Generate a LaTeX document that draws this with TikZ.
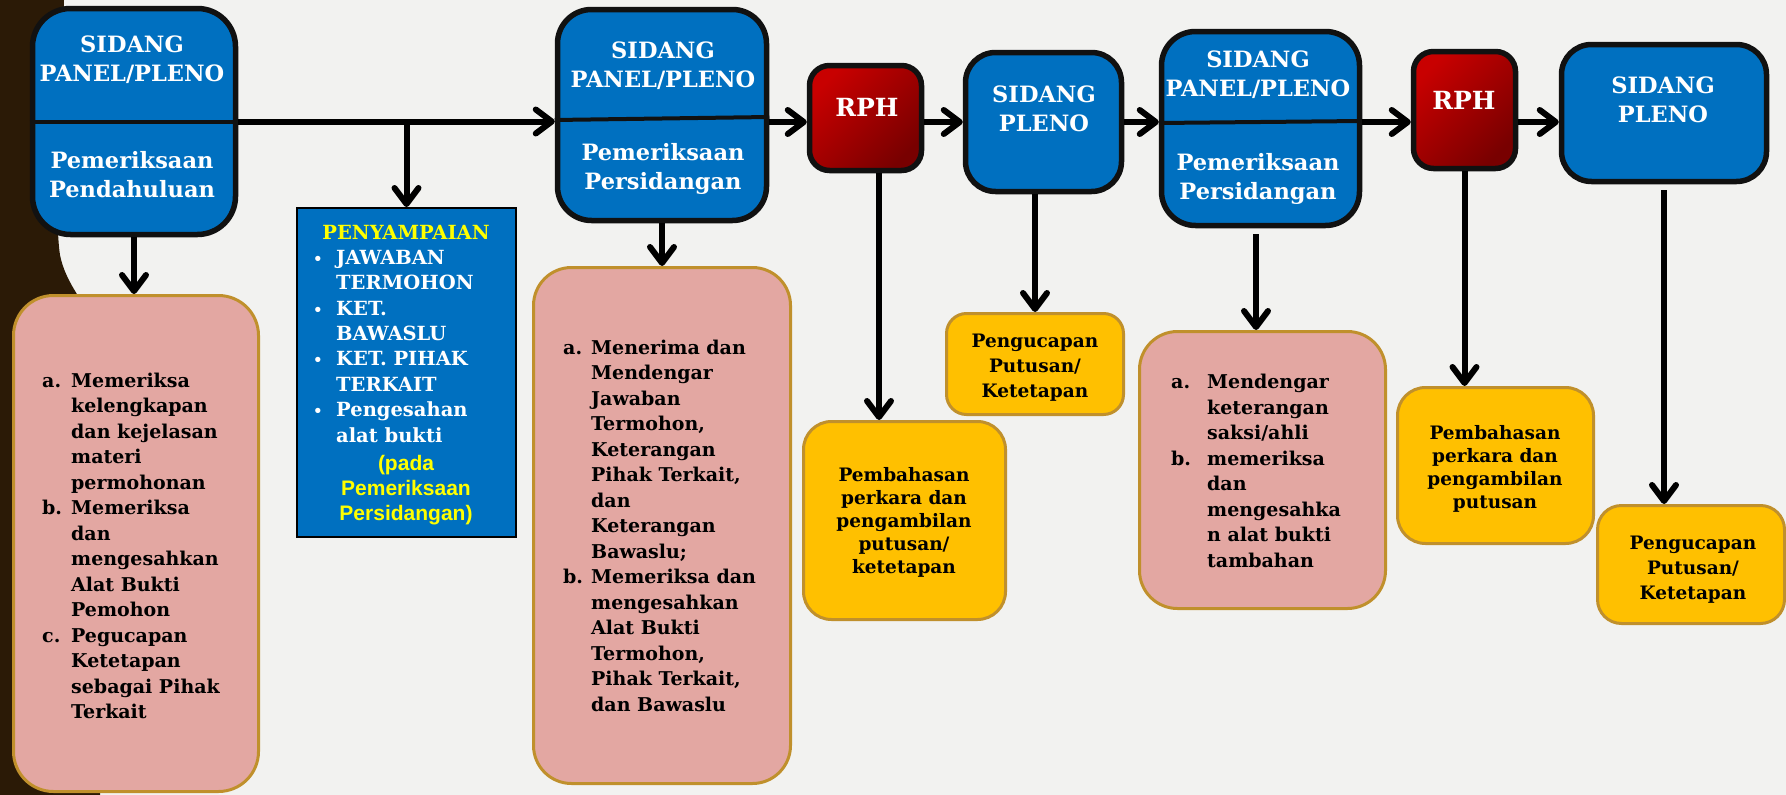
\documentclass[tikz,border=0pt]{standalone}
\usepackage{fontspec}
\setmainfont{DejaVu Serif}
\newfontfamily\arialb{Liberation Sans}
\usetikzlibrary{arrows.meta,calc}
\definecolor{bg}{HTML}{F2F2F0}
\definecolor{darkbrown}{HTML}{2B1A06}
\definecolor{boxblue}{HTML}{0070C0}
\definecolor{pinkfill}{HTML}{E3A7A2}
\definecolor{goldedge}{HTML}{C0902C}
\definecolor{orangefill}{HTML}{FFC000}
\definecolor{redA}{HTML}{C80000}
\definecolor{redB}{HTML}{780000}
\definecolor{yellowtxt}{HTML}{FFFF00}
\definecolor{edge}{HTML}{111111}
\newcommand\lab[2]{\makebox[#1][l]{#2}}
\newcommand\bul{\makebox[23pt][l]{\fontsize{15}{15}\selectfont\textbullet}}
\newcommand\ind{\hspace*{23pt}}
\begin{document}
\begin{tikzpicture}[x=1pt,y=-1pt,
  bluebox/.style={draw=edge, line width=5.5pt, fill=boxblue, rounded corners=#1, inner sep=0pt},
  bluebox/.default=34pt,
  rphbox/.style={draw=edge, line width=5.5pt, rounded corners=20pt, top color=redA, bottom color=redB, shading angle=45, inner sep=0pt},
  penbox/.style={draw=black, line width=2pt, fill=boxblue, inner sep=0pt},
  pinkbox/.style={draw=goldedge, line width=3pt, fill=pinkfill, rounded corners=#1, inner sep=0pt},
  pinkbox/.default=38pt,
  orbox/.style={draw=goldedge, line width=3pt, fill=orangefill, rounded corners=#1, inner sep=0pt},
  orbox/.default=28pt,
  divider/.style={draw=edge, line width=4pt},
  arr/.style={draw=black, line width=6pt, -{Straight Barb[length=16pt,width=24pt,round]}},
  ttl/.style={text=white, font=\bfseries\fontsize{22.5}{29}\selectfont, align=center, inner sep=0pt, anchor=base},
  rpht/.style={text=white, font=\bfseries\fontsize{25}{30}\selectfont, inner sep=0pt, anchor=base},
  pent/.style={text=yellowtxt, font=\bfseries\fontsize{19.5}{25.4}\selectfont, inner sep=0pt, anchor=base},
  penl/.style={text=white, font=\bfseries\fontsize{19.5}{25.4}\selectfont, align=left, inner sep=0pt, anchor=base west},
  penf/.style={text=yellowtxt, font=\arialb\bfseries\fontsize{21}{25}\selectfont, align=center, inner sep=0pt, anchor=base},
  body/.style={text=black, font=\bfseries\fontsize{19}{25.5}\selectfont, align=left, inner sep=0pt, anchor=base west},
  otx/.style={text=black, font=\bfseries\fontsize{18.5}{23}\selectfont, align=center, inner sep=0pt, anchor=base},
  otxb/.style={text=black, font=\bfseries\fontsize{18.5}{25}\selectfont, align=center, inner sep=0pt, anchor=base}
]
\useasboundingbox (0,0) rectangle (1786,795);
\fill[bg] (0,0) rectangle (1786,795);
\fill[darkbrown] (0,0) -- (64,0) .. controls (60,120) and (54,215) .. (60,255)
  .. controls (65,280) and (80,298) .. (100,330) -- (100,795) -- (0,795) -- cycle;
\coordinate (flow) at (0,122);
\coordinate (v1) at (879,0);
\coordinate (v2) at (1256,0);

% blue process boxes
\node[bluebox=38pt, minimum width=203pt, minimum height=226pt] (b1) at (134,121.5) {};
\node[bluebox, minimum width=209pt, minimum height=211pt] (b2) at (662,115) {};
\node[rphbox, minimum width=112pt, minimum height=105pt] (rph1) at (865.5,118) {};
\node[bluebox=30pt, minimum width=156pt, minimum height=139pt] (sp1) at (1043.5,122) {};
\node[bluebox, minimum width=198pt, minimum height=194pt] (b3) at (1260.5,128.5) {};
\node[rphbox, minimum width=102pt, minimum height=117pt] (rph2) at (1464.5,110) {};
\node[bluebox=30pt, minimum width=205pt, minimum height=137pt] (sp2) at (1664,113) {};

\draw[divider] (b1.west) -- (b1.east);
\draw[divider] ($(b2.west)+(0,5)$) -- ($(b2.east)+(0,2)$);
\draw[divider] ($(b3.west)+(0,-5.5)$) -- ($(b3.east)+(0,-7.5)$);

% multi-line nodes are placed by the baseline of their last line
\node[ttl] (b1a) at (132,81) {SIDANG\\PANEL/PLENO};
\node[ttl] (b1b) at (132,197) {Pemeriksaan\\Pendahuluan};
\node[ttl] (b2a) at (663,87) {SIDANG\\PANEL/PLENO};
\node[ttl] (b2b) at (663,189) {Pemeriksaan\\Persidangan};
\node[rpht] (r1t) at (867,116) {RPH};
\node[ttl] (s1a) at (1044,131) {SIDANG\\PLENO};
\node[ttl] (b3a) at (1258,96) {SIDANG\\PANEL/PLENO};
\node[ttl] (b3b) at (1258,199) {Pemeriksaan\\Persidangan};
\node[rpht] (r2t) at (1464,109) {RPH};
\node[ttl] (s2a) at (1663,122) {SIDANG\\PLENO};

% penyampaian
\node[penbox, minimum width=219pt, minimum height=329pt] (pen) at (406.5,372.5) {};
\node[pent] (pen1) at (406,239) {PENYAMPAIAN};
\node[penl] (pen2) at (313,442) {\bul JAWABAN\\\ind TERMOHON\\\bul KET.\\\ind BAWASLU\\\bul KET. PIHAK\\\ind TERKAIT\\\bul Pengesahan\\\ind alat bukti};
\node[penf] (pen3) at (406,520) {(pada\\Pemeriksaan\\Persidangan)};

% pink boxes
\node[pinkbox=40pt, minimum width=245pt, minimum height=496pt] (pk1) at (136,543.5) {};
\node[body] (pk1t) at (42,718.5) {\lab{29pt}{a.}Memeriksa\\\hspace*{29pt}kelengkapan\\\hspace*{29pt}dan kejelasan\\\hspace*{29pt}materi\\\hspace*{29pt}permohonan\\\lab{29pt}{b.}Memeriksa\\\hspace*{29pt}dan\\\hspace*{29pt}mengesahkan\\\hspace*{29pt}Alat Bukti\\\hspace*{29pt}Pemohon\\\lab{29pt}{c.}Pegucapan\\\hspace*{29pt}Ketetapan\\\hspace*{29pt}sebagai Pihak\\\hspace*{29pt}Terkait};
\node[pinkbox, minimum width=257pt, minimum height=516pt] (pk2) at (662,525.5) {};
\node[body] (pk2t) at (563,711) {\lab{28pt}{a.}Menerima dan\\\hspace*{28pt}Mendengar\\\hspace*{28pt}Jawaban\\\hspace*{28pt}Termohon,\\\hspace*{28pt}Keterangan\\\hspace*{28pt}Pihak Terkait,\\\hspace*{28pt}dan\\\hspace*{28pt}Keterangan\\\hspace*{28pt}Bawaslu;\\\lab{28pt}{b.}Memeriksa dan\\\hspace*{28pt}mengesahkan\\\hspace*{28pt}Alat Bukti\\\hspace*{28pt}Termohon,\\\hspace*{28pt}Pihak Terkait,\\\hspace*{28pt}dan Bawaslu};
\node[pinkbox, minimum width=246pt, minimum height=277pt] (pk3) at (1262.5,470) {};
\node[body] (pk3t) at (1171,567) {\lab{36pt}{a.}Mendengar\\\hspace*{36pt}keterangan\\\hspace*{36pt}saksi/ahli\\\lab{36pt}{b.}memeriksa\\\hspace*{36pt}dan\\\hspace*{36pt}mengesahka\\\hspace*{36pt}n alat bukti\\\hspace*{36pt}tambahan};

% orange boxes
\node[orbox, minimum width=202pt, minimum height=198pt] (or1) at (904.5,520.5) {};
\node[otx] (or1t) at (904,573) {Pembahasan\\perkara dan\\pengambilan\\putusan/\\ketetapan};
\node[orbox=20pt, minimum width=177pt, minimum height=101pt] (or2) at (1035,364) {};
\node[otxb] (or2t) at (1035,397) {Pengucapan\\Putusan/\\Ketetapan};
\node[orbox, minimum width=196pt, minimum height=156pt] (or3) at (1495.5,465.5) {};
\node[otx] (or3t) at (1495,508) {Pembahasan\\perkara dan\\pengambilan\\putusan};
\node[orbox=24pt, minimum width=187pt, minimum height=118pt] (or4) at (1691,564.5) {};
\node[otxb] (or4t) at (1693,599) {Pengucapan\\Putusan/\\Ketetapan};

% connectors
\draw[arr] (b1.east) -- (b1.east -| b2.west);
\draw[arr] (pen.north |- b1.east) -- (pen.north);
\draw[arr] (b1.south) -- (b1.south |- pk1.north);
\draw[arr] (b2.east |- flow) -- (rph1.west |- flow);
\draw[arr] (b2.south) -- (b2.south |- pk2.north);
\draw[arr] (rph1.east |- flow) -- (sp1.west |- flow);
\draw[arr] (rph1.south -| v1) -- (or1.north -| v1);
\draw[arr] (sp1.south -| or2.north) -- (or2.north);
\draw[arr] (sp1.east |- flow) -- (b3.west |- flow);
\draw[arr, shorten <=6pt] (b3.south -| v2) -- (pk3.north -| v2);
\draw[arr] (b3.east |- flow) -- (rph2.west |- flow);
\draw[arr] (rph2.south) -- (rph2.south |- or3.north);
\draw[arr] (rph2.east |- flow) -- (sp2.west |- flow);
\draw[arr, shorten <=6pt] (sp2.south) -- (sp2.south |- or4.north);
\end{tikzpicture}
\end{document}
